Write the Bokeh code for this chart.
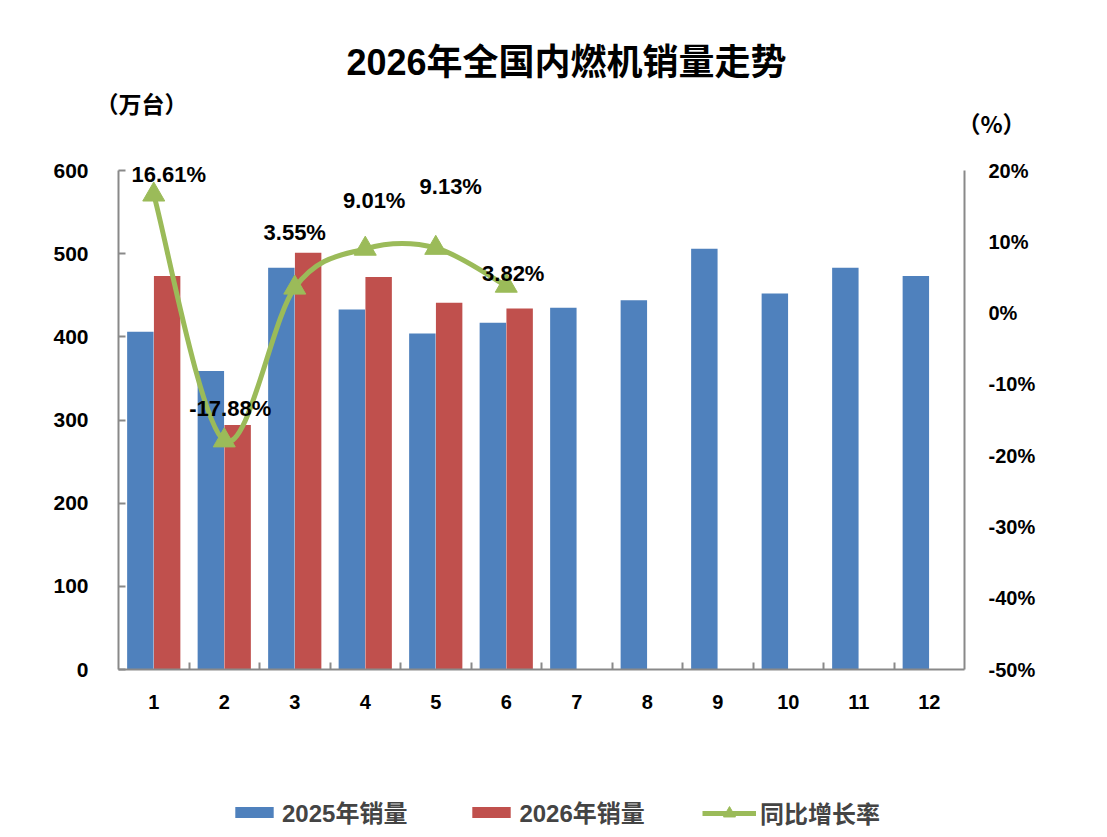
import numpy as np
from bokeh.plotting import figure
from bokeh.models import (Range1d, LinearAxis, FixedTicker, PrintfTickFormatter,
                          ColumnDataSource, Label, LabelSet, Legend, LegendItem)
from bokeh.core.properties import value
from bokeh.transform import dodge
from bokeh.embed import file_html
from bokeh.resources import INLINE

# ---------------- data ----------------
months = list(range(1, 13))
sales_2025 = [406, 359, 483, 433, 404, 417, 435, 444, 506, 452, 483, 473]
months_2026 = [1, 2, 3, 4, 5, 6]
sales_2026 = [473, 294, 501, 472, 441, 434]
growth = [16.61, -17.88, 3.55, 9.01, 9.13, 3.82]
growth_labels = ["16.61%", "-17.88%", "3.55%", "9.01%", "9.13%", "3.82%"]
left_ticks = [0, 100, 200, 300, 400, 500, 600]
right_ticks = [-50, -40, -30, -20, -10, 0, 10, 20]

TITLE = "2026年全国内燃机销量走势"
LEFT_UNIT = "（万台）"
RIGHT_UNIT = "（%）"
SERIES_NAMES = ["2025年销量", "2026年销量", "同比增长率"]

# ---------------- style / layout ----------------
BLUE = "#4F81BD"
RED = "#C0504D"
GREEN = "#9BBB59"
AXIS_GRAY = "#898989"
FONT = "Liberation Sans, Noto Sans CJK SC"
CJK_FONT = "Noto Sans CJK SC"
BAR_W = 0.375
DODGE = 0.19
W, H = 1099, 829
PL, PR, PT, PB = 118, 964, 170, 669          # pixel box of the chart area
X0, X1 = 0.5, 12.5
Y0, Y1 = 0, 600
G0, G1 = -50, 20
# manual label offsets (pixels: right, up)
label_dx = [15, 6, 0, 9, 15, 7]
label_dy = [20, 32, 55, 48, 61, 12]

def px_to_x(px):
    return X0 + (px - PL) * (X1 - X0) / (PR - PL)

def py_to_y(py, a=Y0, b=Y1):
    return a + (PB - py) * (b - a) / (PB - PT)

p = figure(width=W, height=H, output_backend="svg", toolbar_location=None,
           x_axis_type=None, y_axis_type=None,
           x_range=Range1d(px_to_x(0), px_to_x(W)),
           y_range=Range1d(py_to_y(H), py_to_y(0)),
           min_border=0)
p.extra_y_ranges = {"pct": Range1d(py_to_y(H, G0, G1), py_to_y(0, G0, G1))}
p.grid.visible = False
p.outline_line_color = None
p.background_fill_color = "white"
p.border_fill_color = "white"

src25 = ColumnDataSource(dict(x=months, y=sales_2025))
src26 = ColumnDataSource(dict(x=months_2026, y=sales_2026))
r25 = p.vbar(x=dodge("x", -DODGE, range=p.x_range), top="y", width=BAR_W,
             source=src25, fill_color=BLUE, line_color=None)
r26 = p.vbar(x=dodge("x", DODGE, range=p.x_range), top="y", width=BAR_W,
             source=src26, fill_color=RED, line_color=None)

# smoothed growth line (Catmull-Rom -> cubic Bezier, control points derived from data)
gx = np.array(months_2026, dtype=float)
gy = np.array(growth, dtype=float)
ex = np.concatenate([[gx[0]], gx, [gx[-1]]])
ey = np.concatenate([[gy[0]], gy, [gy[-1]]])
n = len(gx)
bsrc = ColumnDataSource(dict(
    x0=ex[1:n], y0=ey[1:n], x1=ex[2:n + 1], y1=ey[2:n + 1],
    cx0=ex[1:n] + (ex[2:n + 1] - ex[0:n - 1]) / 6.0,
    cy0=ey[1:n] + (ey[2:n + 1] - ey[0:n - 1]) / 6.0,
    cx1=ex[2:n + 1] - (ex[3:n + 2] - ex[1:n]) / 6.0,
    cy1=ey[2:n + 1] - (ey[3:n + 2] - ey[1:n]) / 6.0))
rline = p.bezier(x0="x0", y0="y0", x1="x1", y1="y1", cx0="cx0", cy0="cy0",
                 cx1="cx1", cy1="cy1", source=bsrc, y_range_name="pct",
                 line_color=GREEN, line_width=5)
gsrc = ColumnDataSource(dict(x=months_2026, y=growth, lab=growth_labels,
                             dx=label_dx, dy=label_dy))
rpts = p.scatter(x="x", y="y", source=gsrc, y_range_name="pct", marker="triangle",
                 size=22, fill_color=GREEN, line_color=GREEN)

labels = LabelSet(x="x", y="y", text="lab", source=gsrc, y_range_name="pct",
                  x_offset="dx", y_offset="dy", text_align="center",
                  text_baseline="middle", text_font=value(FONT),
                  text_font_size=value("22px"), text_font_style=value("bold"),
                  text_color=value("black"))
p.add_layout(labels)

# axes (fixed inside the full-canvas frame)
xaxis = LinearAxis(fixed_location=Y0, bounds=(X0, X1),
                   ticker=FixedTicker(ticks=months, minor_ticks=[m + 0.5 for m in months[:-1]]))
xaxis.major_tick_in = 0
xaxis.major_tick_out = 0
xaxis.minor_tick_in = 7
xaxis.minor_tick_out = 0
xaxis.minor_tick_line_color = AXIS_GRAY
xaxis.minor_tick_line_width = 2
xaxis.axis_line_color = AXIS_GRAY
xaxis.axis_line_width = 2
xaxis.major_label_standoff = 25
xaxis.major_label_text_font = FONT
xaxis.major_label_text_font_size = "20px"
xaxis.major_label_text_font_style = "bold"
xaxis.major_label_text_color = "black"
p.add_layout(xaxis, "below")

yaxis = LinearAxis(fixed_location=X0, bounds=(Y0, Y1), ticker=FixedTicker(ticks=left_ticks))
yaxis.major_tick_in = 7
yaxis.major_tick_out = 0
yaxis.major_tick_line_color = AXIS_GRAY
yaxis.major_tick_line_width = 2
yaxis.minor_tick_line_color = None
yaxis.axis_line_color = AXIS_GRAY
yaxis.axis_line_width = 2
yaxis.major_label_standoff = 30
yaxis.major_label_text_font = FONT
yaxis.major_label_text_font_size = "21px"
yaxis.major_label_text_font_style = "bold"
yaxis.major_label_text_color = "black"
p.add_layout(yaxis, "left")

raxis = LinearAxis(y_range_name="pct", fixed_location=X1, bounds=(G0, G1),
                   ticker=FixedTicker(ticks=right_ticks),
                   formatter=PrintfTickFormatter(format="%d%%"))
raxis.major_tick_line_color = None
raxis.minor_tick_line_color = None
raxis.axis_line_color = AXIS_GRAY
raxis.axis_line_width = 2
raxis.major_label_standoff = 18
raxis.major_label_text_font = FONT
raxis.major_label_text_font_size = "20px"
raxis.major_label_text_font_style = "bold"
raxis.major_label_text_color = "black"
p.add_layout(raxis, "right")

# title and unit labels
p.add_layout(Label(x=px_to_x(566), y=py_to_y(62), text=TITLE, text_align="center",
                   text_baseline="middle", text_font=FONT, text_font_size="36px",
                   text_font_style="bold", text_color="black"))
p.add_layout(Label(x=px_to_x(141), y=py_to_y(102), text=LEFT_UNIT, text_align="center",
                   text_baseline="middle", text_font=CJK_FONT, text_font_size="23px",
                   text_font_style="bold", text_color="black"))
p.add_layout(Label(x=px_to_x(991), y=py_to_y(122), text=RIGHT_UNIT, text_align="center",
                   text_baseline="middle", text_font=CJK_FONT, text_font_size="23px",
                   text_font_style="bold", text_color="black"))

common = dict(orientation="horizontal", label_standoff=4, padding=0, margin=0,
              border_line_color=None, background_fill_alpha=0,
              label_text_font=FONT, label_text_font_size="24px",
              label_text_font_style="bold")
legend_bars = Legend(items=[LegendItem(label=SERIES_NAMES[0], renderers=[r25]),
                            LegendItem(label=SERIES_NAMES[1], renderers=[r26])],
                     location=(230, H - 829), glyph_width=48, glyph_height=14,
                     spacing=60, label_height=28, **common)
legend_line = Legend(items=[LegendItem(label=SERIES_NAMES[2], renderers=[rline, rpts])],
                     location=(702, H - 830), glyph_width=54, glyph_height=30,
                     label_height=30, **common)
p.add_layout(legend_bars)
p.add_layout(legend_line)

open("out.html", "w").write(file_html(p, INLINE))
